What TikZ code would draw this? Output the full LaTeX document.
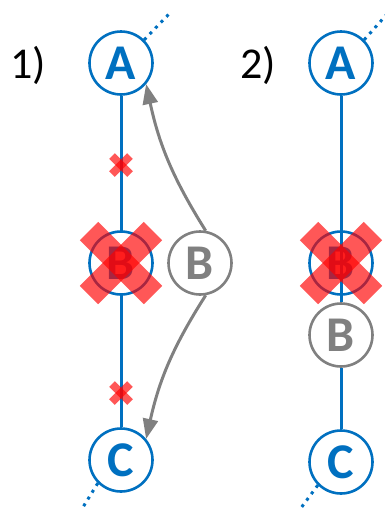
\documentclass[tikz,border=0pt]{standalone}
\usepackage{fontspec}
\setmainfont{Carlito}
\usetikzlibrary{arrows.meta,calc}
\definecolor{stnblue}{RGB}{0,112,192}
\definecolor{ghostgray}{RGB}{128,128,128}
\definecolor{crossred}{RGB}{255,0,0}
\tikzset{
  stn/.style={circle, draw=stnblue, fill=white, line width=2.6pt, minimum size=63pt, inner sep=0pt,
    text=stnblue, font=\fontsize{50}{50}\selectfont\bfseries},
  ghost/.style={circle, draw=ghostgray, fill=white, line width=2.6pt, minimum size=63pt, inner sep=0pt,
    text=ghostgray, font=\fontsize{50}{50}\selectfont\bfseries},
  track/.style={stnblue, line width=3pt},
  farline/.style={stnblue, line width=3pt, dash pattern=on 3pt off 5pt},
  move/.style={ghostgray, line width=3pt, -{Triangle[length=20pt,width=15pt]}},
  bigx/.style={crossred, opacity=0.66, line width=26pt},
  smallx/.style={crossred, opacity=0.66, line width=8pt},
  numlabel/.style={font=\fontsize{44}{44}\selectfont}
}
\begin{document}
\begin{tikzpicture}[x=1pt, y=-1pt]
\useasboundingbox (0,0) rectangle (385,509);
% 1)
\node[numlabel] (n1) at (28,65) {1)};
\coordinate (e1) at (170,13);
\coordinate (f1) at (80,512);
\node[stn] (A1) at (121,63) {A};
\node[stn] (C1) at (121,460) {C};
\draw[farline] (A1.45) -- (e1);
\draw[farline] (C1.225) -- (f1);
\draw[track] (A1) -- (C1);
\node[stn] (B1) at (121,263) {B};
\node[ghost] (Bg1) at (200,263) {B};
\coordinate (x1) at (121,165);
\coordinate (x2) at (121,393);
% crossed out
\draw[bigx] ($(B1)+(-32,-32)$) -- ($(B1)+(32,32)$);
\draw[bigx] ($(B1)+(32,-32)$) -- ($(B1)+(-32,32)$);
\foreach \p in {x1,x2}{
  \draw[smallx] ($(\p)+(-9,-9)$) -- ($(\p)+(9,9)$);
  \draw[smallx] ($(\p)+(9,-9)$) -- ($(\p)+(-9,9)$);
}
% moves
\draw[move] (Bg1.80) to[bend left=10] (A1.-40);
\draw[move] (Bg1.-80) to[bend right=10] (C1.40);
% 2)
\node[numlabel] (n2) at (258,65) {2)};
\coordinate (e2) at (388,13);
\coordinate (f2) at (298,512);
\node[stn] (A2) at (341,63) {A};
\node[stn] (C2) at (341,462) {C};
\draw[farline] (A2.45) -- (e2);
\draw[farline] (C2.225) -- (f2);
\node[stn] (B2) at (341,263) {B};
\node[ghost] (Bg2) at (341,335) {B};
\draw[track] (A2) -- (Bg2);
\draw[track] (Bg2) -- (C2);
\draw[bigx] ($(B2)+(-32,-32)$) -- ($(B2)+(32,32)$);
\draw[bigx] ($(B2)+(32,-32)$) -- ($(B2)+(-32,32)$);
\end{tikzpicture}
\end{document}
